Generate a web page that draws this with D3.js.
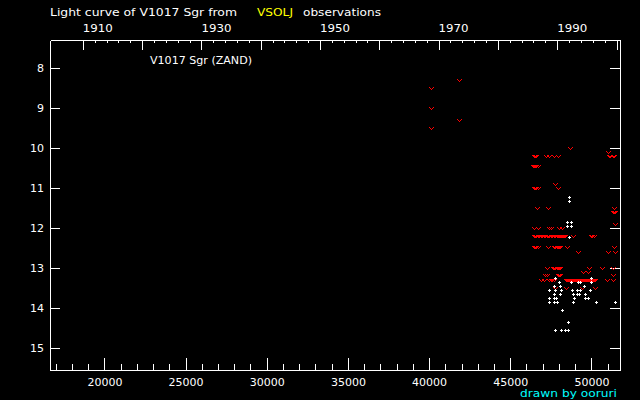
<!DOCTYPE html>
<html><head><meta charset="utf-8">
<script src="https://cdn.jsdelivr.net/npm/d3@7"></script>
<style>html,body{margin:0;padding:0;background:#000;} svg{display:block}</style>
</head><body><svg id="c" width="640" height="400"></svg>
<script>
// ---- data ----
const jdTicks = [20000, 25000, 30000, 35000, 40000, 45000, 50000];
const yearLabels = [1910, 1930, 1950, 1970, 1990];
const magTicks = [8, 9, 10, 11, 12, 13, 14, 15];

// "fainter than" estimates [JD-2400000, mag]
const fainter = [
  [40135, 8.5], [40135, 9.0], [40135, 9.5], [41860, 8.3], [41860, 9.3],
  [48720, 10.0], [51080, 10.1],
  [46520, 10.2], [46585, 10.2], [46645, 10.2], [47240, 10.2], [47445, 10.2], [47710, 10.2], [47955, 10.2],
  [51140, 10.2], [51205, 10.2], [51330, 10.2], [51450, 10.2],
  [46460, 10.45], [46520, 10.45], [46585, 10.45], [46645, 10.45], [46710, 10.45],
  [47800, 10.9],
  [46520, 11.0], [46585, 11.0], [46645, 11.0], [46710, 11.0], [46770, 11.0], [47955, 11.0],
  [46700, 11.5], [47385, 11.5], [51410, 11.5],
  [51330, 11.6], [51410, 11.6], [51480, 11.6],
  [51510, 11.9],
  [46520, 12.0], [46710, 12.0], [47445, 12.0], [47570, 12.0], [48060, 12.0], [48245, 12.0],
  [46520, 12.2], [46585, 12.2], [46645, 12.2], [46710, 12.2], [46770, 12.2], [46830, 12.2], [46895, 12.2],
  [46955, 12.2], [47015, 12.2], [47080, 12.2], [47140, 12.2], [47200, 12.2], [47265, 12.2], [47325, 12.2],
  [47385, 12.2], [47445, 12.2], [47510, 12.2], [47570, 12.2], [47630, 12.2], [47695, 12.2], [47755, 12.2],
  [47815, 12.2], [47880, 12.2], [47940, 12.2], [48000, 12.2], [48060, 12.2], [48125, 12.2], [48185, 12.2],
  [48245, 12.2], [48310, 12.2], [48370, 12.2], [48430, 12.2],
  [48905, 12.2], [50035, 12.2], [50095, 12.2], [50160, 12.2], [50220, 12.2],
  [46520, 12.48], [46585, 12.48], [46645, 12.48], [46710, 12.48], [47385, 12.48],
  [47755, 12.48], [47815, 12.48], [47880, 12.48], [47940, 12.48], [48000, 12.48], [48060, 12.48], [48125, 12.48],
  [48555, 12.48], [51400, 12.48],
  [49200, 12.6], [51080, 12.6], [51480, 12.6],
  [47305, 13.0], [47690, 13.0], [47755, 13.0], [47815, 13.0], [47880, 13.0], [47940, 13.0], [48000, 13.0],
  [48060, 13.0], [48125, 13.0], [49865, 13.0], [50710, 13.0], [51370, 13.0],
  [49520, 13.1], [49830, 13.1],
  [47200, 13.19], [47325, 13.19], [48000, 13.19], [48060, 13.19], [48125, 13.19], [51370, 13.19],
  [46955, 13.29], [47080, 13.29], [47445, 13.29], [47510, 13.29], [47570, 13.29], [47630, 13.29], [47695, 13.29],
  [47755, 13.29],
  [48490, 13.29], [48555, 13.29], [48615, 13.29], [48675, 13.29], [48740, 13.29], [48800, 13.29], [48860, 13.29],
  [48925, 13.29], [48985, 13.29], [49045, 13.29], [49110, 13.29], [49170, 13.29], [49230, 13.29], [49295, 13.29],
  [49355, 13.29], [49415, 13.29], [49480, 13.29], [49540, 13.29], [49600, 13.29], [49665, 13.29], [49725, 13.29],
  [49785, 13.29], [49850, 13.29], [49910, 13.29], [49970, 13.29], [50030, 13.29], [50095, 13.29], [50155, 13.29],
  [50215, 13.29], [50280, 13.29], [51000, 13.29], [51370, 13.29],
  [47800, 13.5], [48475, 13.5], [49420, 13.5], [50280, 13.5]
];

// visual observations [JD-2400000, mag]
const observed = [
  [48635, 11.23], [48635, 11.33],
  [48555, 11.84], [48800, 11.84], [48555, 11.96], [48800, 11.96],
  [48680, 12.23],
  [47815, 13.25], [50035, 13.25],
  [48020, 13.36], [48800, 13.36], [49215, 13.36], [49355, 13.36], [50035, 13.36],
  [47710, 13.45], [48105, 13.45], [49560, 13.45],
  [47445, 13.56], [47800, 13.56], [48165, 13.56], [48830, 13.56], [49170, 13.56], [49355, 13.56], [49940, 13.56],
  [47755, 13.65], [48120, 13.65], [48925, 13.65], [49130, 13.65], [49250, 13.65], [49650, 13.65],
  [47445, 13.75], [47710, 13.75], [47860, 13.75], [48950, 13.75], [49635, 13.75], [49820, 13.75],
  [47445, 13.85], [47755, 13.85], [47895, 13.85], [48890, 13.85], [50300, 13.85], [51480, 13.85],
  [48215, 14.05], [48570, 14.35],
  [47785, 14.55], [48165, 14.55], [48430, 14.55], [48570, 14.55]
];

// ---- drawing ----
const L = 50, R = 620, T = 40, B = 370;
const FONT = "DejaVu Sans";
const svg = d3.select("#c");
svg.append("rect").attr("width", 640).attr("height", 400).attr("fill", "#000");

const x = d3.scaleLinear().domain([16650, 51760]).range([L, R]);
const y = d3.scaleLinear().domain([7.29, 15.54]).range([T, B]);
const jdToYear = jd => 1900 + (jd - 15020.5) / 365.2425;
const yr = d3.scaleLinear().domain([jdToYear(16650), jdToYear(51760)]).range([L, R]);

function styleAxis(g) {
  g.selectAll("path,line").attr("stroke", "#fff").attr("stroke-width", 1).attr("shape-rendering", "crispEdges");
  g.selectAll("text").attr("fill", "#fff").attr("font-family", FONT).attr("font-size", 11);
}

// bottom JD axis: minor ticks
const minorJD = d3.range(17000, 51760, 1000);
svg.append("g").attr("transform", `translate(0,${B})`)
  .call(d3.axisBottom(x).tickValues(minorJD).tickSize(-6).tickSizeOuter(0).tickFormat(""))
  .call(styleAxis);
svg.append("g").attr("transform", `translate(0,${B})`)
  .call(d3.axisBottom(x).tickValues(jdTicks).tickSize(-12).tickSizeOuter(0).tickPadding(8).tickFormat(d3.format("d")))
  .call(styleAxis)
  .call(g => g.select(".domain").remove());

// top year axis
const minorYears = d3.range(1910, 2001, 2);
const majorYears = d3.range(1910, 2001, 10);
svg.append("g").attr("transform", `translate(0,${T})`)
  .call(d3.axisBottom(yr).tickValues(minorYears).tickSize(3).tickSizeOuter(0).tickFormat(""))
  .call(styleAxis);
svg.append("g").attr("transform", `translate(0,${T})`)
  .call(d3.axisBottom(yr).tickValues(majorYears).tickSize(10).tickSizeOuter(0).tickFormat(""))
  .call(styleAxis)
  .call(g => g.select(".domain").remove());
svg.append("g").selectAll("text").data(yearLabels).join("text")
  .attr("x", d => yr(d)).attr("y", 32)
  .attr("fill", "#fff").attr("font-family", FONT).attr("font-size", 11)
  .attr("textLength", 30).attr("lengthAdjust", "spacingAndGlyphs")
  .text(d => d);

// left / right magnitude axes
svg.append("g").attr("transform", `translate(${L},0)`)
  .call(d3.axisLeft(y).tickValues(magTicks).tickSize(-10).tickSizeOuter(0).tickPadding(6).tickFormat(d3.format("d")))
  .call(styleAxis);
svg.append("g").attr("transform", `translate(${R},0)`)
  .call(d3.axisLeft(y).tickValues(magTicks).tickSize(10).tickSizeOuter(0).tickFormat(""))
  .call(styleAxis);

// marks as pixel glyphs
const vPix = [[-2, -1], [2, -1], [-1, 0], [1, 0], [0, 1]];
const plusPix = [[0, -1], [-1, 0], [0, 0], [1, 0], [0, 1]];
function glyph(pix) {
  return d => {
    const cx = Math.floor(x(d[0])), cy = Math.floor(y(d[1]));
    return pix.map(p => `M${cx + p[0]},${cy + p[1]}h1v1h-1z`).join("");
  };
}
const plot = svg.append("g");
plot.selectAll("path.f").data(fainter).join("path").attr("class", "f")
  .attr("d", glyph(vPix)).attr("fill", "#ff0000").attr("shape-rendering", "crispEdges");
plot.selectAll("path.o").data(observed).join("path").attr("class", "o")
  .attr("d", glyph(plusPix)).attr("fill", "#ffffff").attr("shape-rendering", "crispEdges");

// texts
const txt = (s, xx, yy, col, len, fs) => {
  const t = svg.append("text").attr("x", xx).attr("y", yy).attr("fill", col)
    .attr("font-family", FONT).attr("font-size", fs || 11).text(s);
  if (len) t.attr("textLength", len).attr("lengthAdjust", "spacingAndGlyphs");
  return t;
};
txt("Light curve of V1017 Sgr from", 50, 16, "#fff", 187);
txt("VSOLJ", 257, 16, "#ffff00", 36);
txt("observations", 303, 16, "#fff", 78);
txt("V1017 Sgr (ZAND)", 150, 64, "#fff", 102);
txt("drawn by ooruri", 520, 397, "#00ffff", 97, 10);
</script>
</body></html>
